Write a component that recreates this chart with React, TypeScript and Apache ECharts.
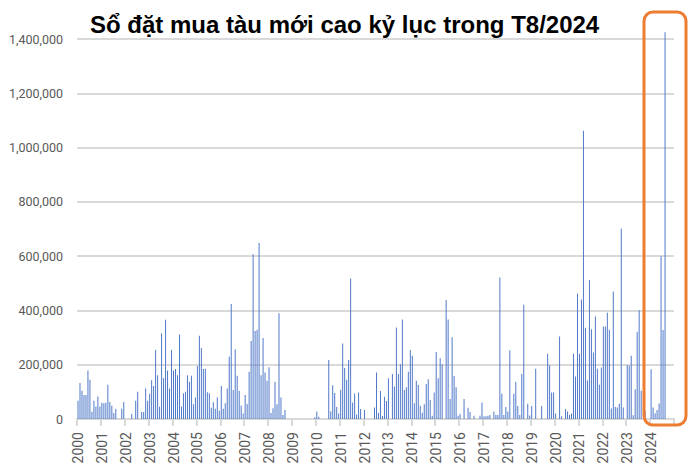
import React, { useEffect, useRef } from "react";
import * as echarts from "echarts";

// Monthly new ship orders (values in thousands), Jan..Dec per year
const y2000 = [67, 133, 104, 88, 88, 179, 145, 27, 67, 46, 83, 46];
const y2001 = [60, 58, 60, 126, 63, 49, 22, 38, 0, 0, 38, 63];
const y2002 = [0, 0, 0, 18, 0, 67, 100, 0, 26, 26, 112, 67];
const y2003 = [93, 143, 122, 254, 161, 45, 316, 151, 366, 179, 112, 254];
const y2004 = [179, 184, 161, 311, 46, 95, 100, 161, 137, 159, 54, 79];
const y2005 = [195, 307, 262, 184, 185, 99, 95, 41, 62, 38, 80, 30];
const y2006 = [122, 38, 58, 112, 229, 424, 107, 257, 159, 104, 50, 20];
const y2007 = [88, 55, 174, 287, 607, 324, 329, 648, 161, 298, 171, 141];
const y2008 = [191, 22, 40, 137, 54, 390, 79, 15, 33, 0, 0, 0];
const y2009 = [0, 0, 0, 0, 0, 0, 0, 0, 0, 0, 0, 6];
const y2010 = [28, 8, 0, 0, 0, 0, 217, 29, 124, 96, 44, 20];
const y2011 = [108, 278, 188, 145, 217, 518, 61, 94, 17, 98, 37, 0];
const y2012 = [33, 0, 0, 0, 0, 42, 171, 23, 103, 11, 82, 66];
const y2013 = [150, 0, 166, 120, 337, 166, 202, 367, 107, 117, 174, 254];
const y2014 = [233, 58, 141, 125, 49, 23, 54, 129, 146, 70, 12, 98];
const y2015 = [247, 150, 224, 202, 0, 438, 367, 74, 301, 158, 117, 12];
const y2016 = [18, 0, 74, 0, 41, 26, 0, 12, 0, 0, 12, 61];
const y2017 = [10, 10, 12, 15, 0, 28, 15, 15, 521, 93, 15, 44];
const y2018 = [28, 253, 0, 93, 136, 48, 15, 166, 421, 0, 56, 13];
const y2019 = [48, 0, 185, 0, 0, 48, 0, 0, 240, 198, 98, 98];
const y2020 = [20, 0, 304, 10, 0, 37, 28, 15, 20, 240, 157, 461];
const y2021 = [240, 440, 1062, 336, 142, 512, 331, 245, 378, 185, 126, 190];
const y2022 = [341, 341, 391, 329, 39, 470, 44, 42, 56, 701, 42, 0];
const y2023 = [199, 196, 233, 14, 110, 321, 401, 104, 0, 30, 0, 0];
const y2024 = [183, 42, 21, 33, 57, 600, 328, 1425, null, null, null, null];

const years = [
  "2000", "2001", "2002", "2003", "2004", "2005", "2006", "2007", "2008",
  "2009", "2010", "2011", "2012", "2013", "2014", "2015", "2016", "2017",
  "2018", "2019", "2020", "2021", "2022", "2023", "2024",
];
const months = ["01", "02", "03", "04", "05", "06", "07", "08", "09", "10", "11", "12"];
const yearlyValues = [
  y2000, y2001, y2002, y2003, y2004, y2005, y2006, y2007, y2008, y2009,
  y2010, y2011, y2012, y2013, y2014, y2015, y2016, y2017, y2018, y2019,
  y2020, y2021, y2022, y2023, y2024,
];

const titleText = "Sổ đặt mua tàu mới cao kỷ lục trong T8/2024";

export default function App() {
  const ref = useRef<HTMLDivElement>(null);
  useEffect(() => {
    document.body.style.margin = "0";
    if (!ref.current) return;
    const chart = echarts.init(ref.current, null, { renderer: "svg" });
    const categories: string[] = [];
    years.forEach((y) => months.forEach((m) => categories.push(y + "-" + m)));
    const values: (number | null)[] = [];
    yearlyValues.forEach((arr) =>
      arr.forEach((v) => values.push(v === null ? null : v * 1000))
    );
    const labelFont = "Roboto, 'Liberation Sans', sans-serif";
    chart.setOption({
      animation: false,
      title: {
        text: titleText,
        left: 85,
        top: 7,
        textStyle: {
          fontFamily: "'Liberation Sans', Arial, sans-serif",
          fontWeight: "bold",
          fontSize: 24,
          color: "#000000",
        },
      },
      grid: { left: 77, right: 23, top: 39, bottom: 53, containLabel: false },
      xAxis: {
        type: "category",
        data: categories,
        boundaryGap: true,
        axisLine: { show: true, lineStyle: { color: "#d9d9d9", width: 2 } },
        axisTick: {
          show: true,
          interval: 11,
          alignWithLabel: false,
          length: 7,
          lineStyle: { color: "#d9d9d9", width: 2 },
        },
        axisLabel: {
          interval: 11,
          rotate: 90,
          margin: 13,
          color: "#595959",
          fontSize: 14,
          fontFamily: labelFont,
          formatter: (v: string) => v.slice(0, 4),
        },
        splitLine: { show: false },
      },
      yAxis: {
        type: "value",
        min: 0,
        max: 1400000,
        interval: 200000,
        axisLine: { show: false },
        axisTick: { show: false },
        axisLabel: {
          margin: 14,
          color: "#595959",
          fontSize: 12.5,
          fontFamily: labelFont,
          formatter: (v: number) => v.toLocaleString("en-US"),
        },
        splitLine: { lineStyle: { color: "#d9d9d9", width: 2 } },
      },
      series: [
        {
          type: "bar",
          data: values,
          barWidth: 1,
          clip: false,
          silent: true,
          itemStyle: { color: "#5079c9" },
        },
      ],
      graphic: [
        {
          type: "rect",
          shape: { x: 644, y: 12, width: 42, height: 413, r: 9 },
          style: { fill: "none", stroke: "#ED7D31", lineWidth: 3 },
          z: 100,
        },
      ],
    });
    return () => chart.dispose();
  }, []);
  return <div ref={ref} style={{ width: 697, height: 472 }} />;
}
